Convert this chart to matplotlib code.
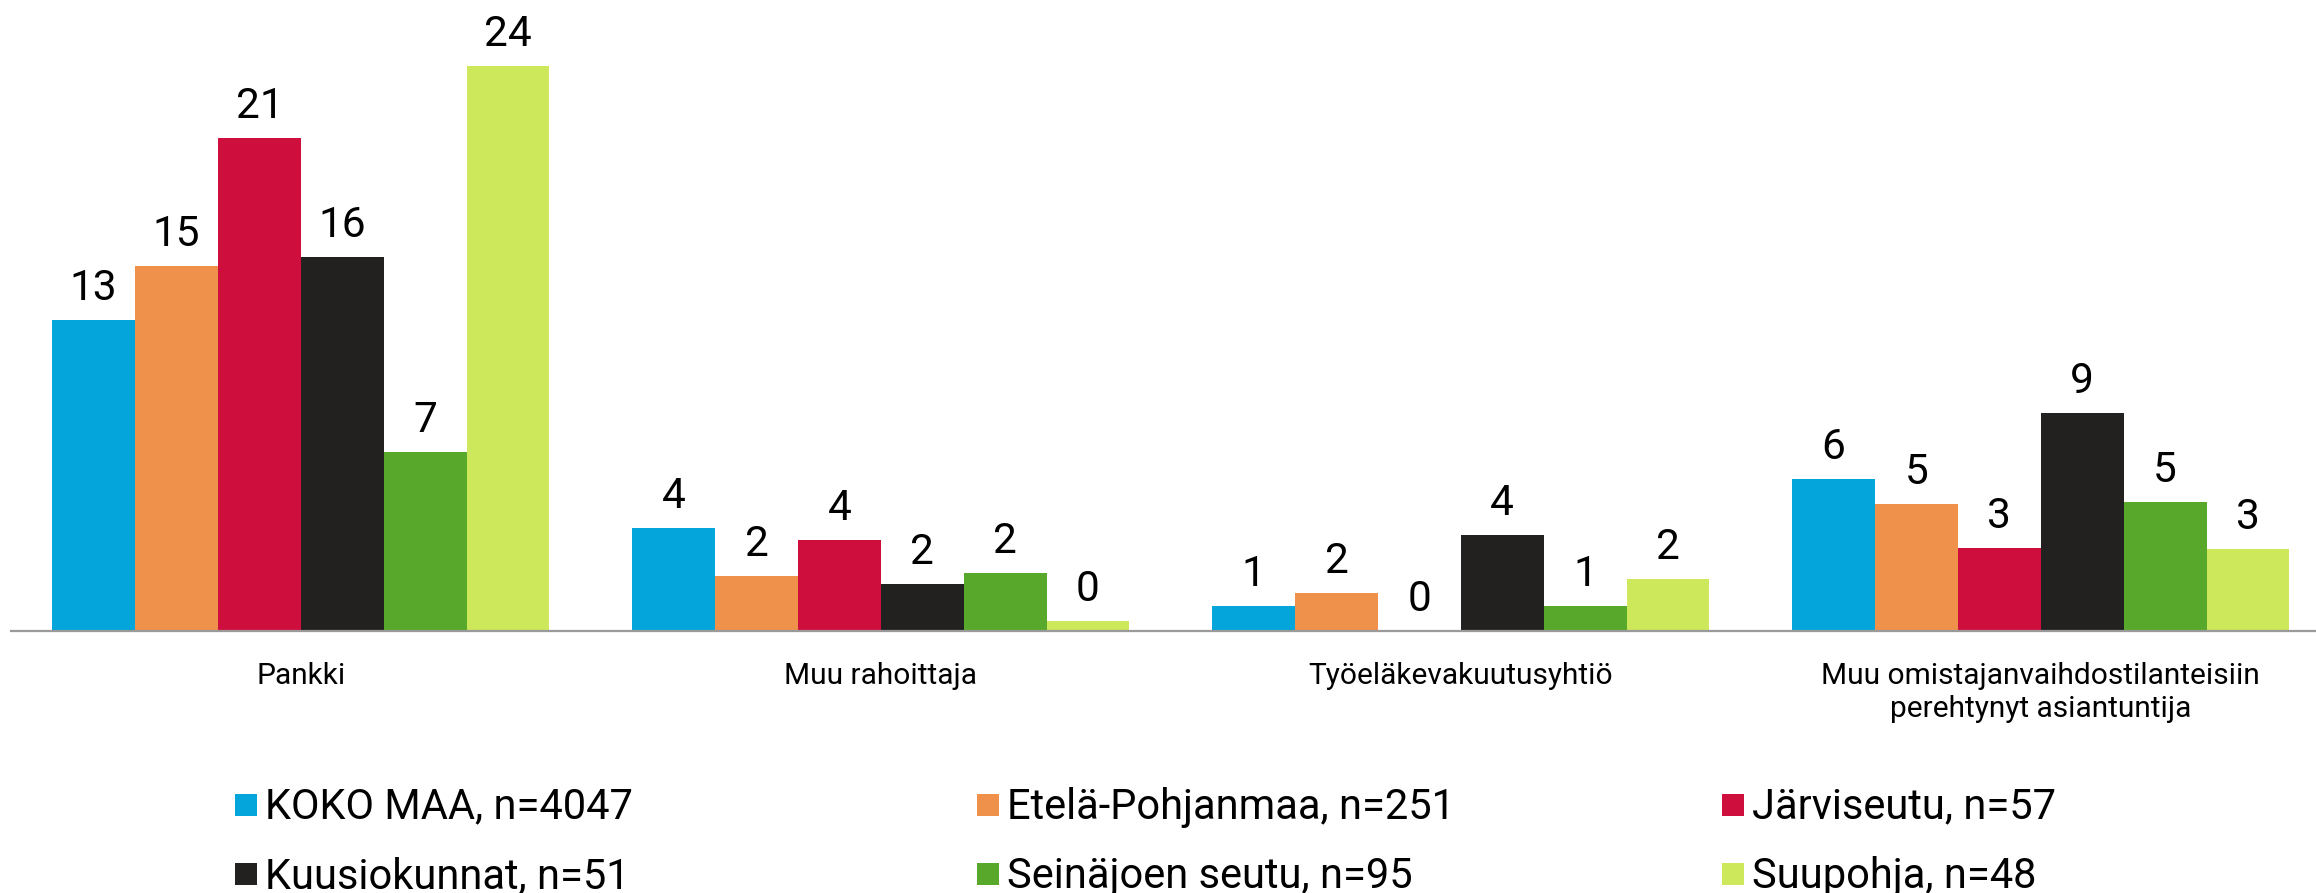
import matplotlib.pyplot as plt
import numpy as np
from matplotlib.patches import Rectangle

plt.rcParams['font.family'] = ['Roboto', 'DejaVu Sans']

categories = ['Pankki', 'Muu rahoittaja', 'Työeläkevakuutusyhtiö',
              'Muu omistajanvaihdostilanteisiin\nperehtynyt asiantuntija']
series = ['KOKO MAA, n=4047', 'Etelä-Pohjanmaa, n=251', 'Järviseutu, n=57',
          'Kuusiokunnat, n=51', 'Seinäjoen seutu, n=95', 'Suupohja, n=48']
koko_maa = [12.96, 4.28, 1.04, 6.32]
etela_pohjanmaa = [15.19, 2.28, 1.60, 5.31]
jarviseutu = [20.56, 3.78, 0.0, 3.46]
kuusiokunnat = [15.58, 1.96, 3.99, 9.10]
seinajoki = [7.46, 2.43, 1.06, 5.38]
suupohja = [23.56, 0.42, 2.15, 3.42]
values = [koko_maa, etela_pohjanmaa, jarviseutu, kuusiokunnat, seinajoki, suupohja]
colors = ['#03A5DA', '#F0914B', '#CE0F3D', '#22211F', '#58A82C', '#CDE85A']

W, H = 2316, 893
fig = plt.figure(figsize=(W / 100, H / 100), dpi=100)
# axes: baseline at y=631 px, left edge at x=10.8 px, 580 px per category
ax = fig.add_axes([10.8 / W, 1 - 631 / H, (W - 10.8) / W, 631 / H])

x = np.arange(len(categories))
bw = 1 / 7
for i, (vals, c) in enumerate(zip(values, colors)):
    pos = x - 3 * bw + (i + 0.5) * bw
    ax.bar(pos, vals, width=bw, color=c, label=series[i])
    for px, v in zip(pos, vals):
        ax.annotate(f'{v:.0f}', (px, v), xytext=(0, 14.4), textcoords='offset points',
                    ha='center', va='baseline', fontsize=30.5, color='black')

ax.set_xlim(-0.5, -0.5 + (W - 10.8) / 580)
ax.set_ylim(0, 631 / 24.0)
ax.set_xticks(x)
ax.set_xticklabels(categories, fontsize=21.5, linespacing=1.25)
ax.tick_params(axis='x', length=0, pad=22)
ax.set_yticks([])
for s in ['top', 'right', 'left']:
    ax.spines[s].set_visible(False)
ax.spines['bottom'].set_color('#9A9A9A')
ax.spines['bottom'].set_linewidth(1.6)

# legend, 3 columns x 2 rows
col_x = [235, 977, 1722]
row_y = [804.5, 874]
for i, (lab, c) in enumerate(zip(series, colors)):
    cx = col_x[i % 3]
    cy = row_y[i // 3]
    fig.add_artist(Rectangle((cx / W, 1 - (cy + 11) / H), 22 / W, 22 / H,
                             transform=fig.transFigure, color=c, lw=0))
    fig.text((cx + 30) / W, 1 - (cy + 14) / H, lab, fontsize=30,
             ha='left', va='baseline', color='black')

fig.savefig('out.png', dpi=100)
